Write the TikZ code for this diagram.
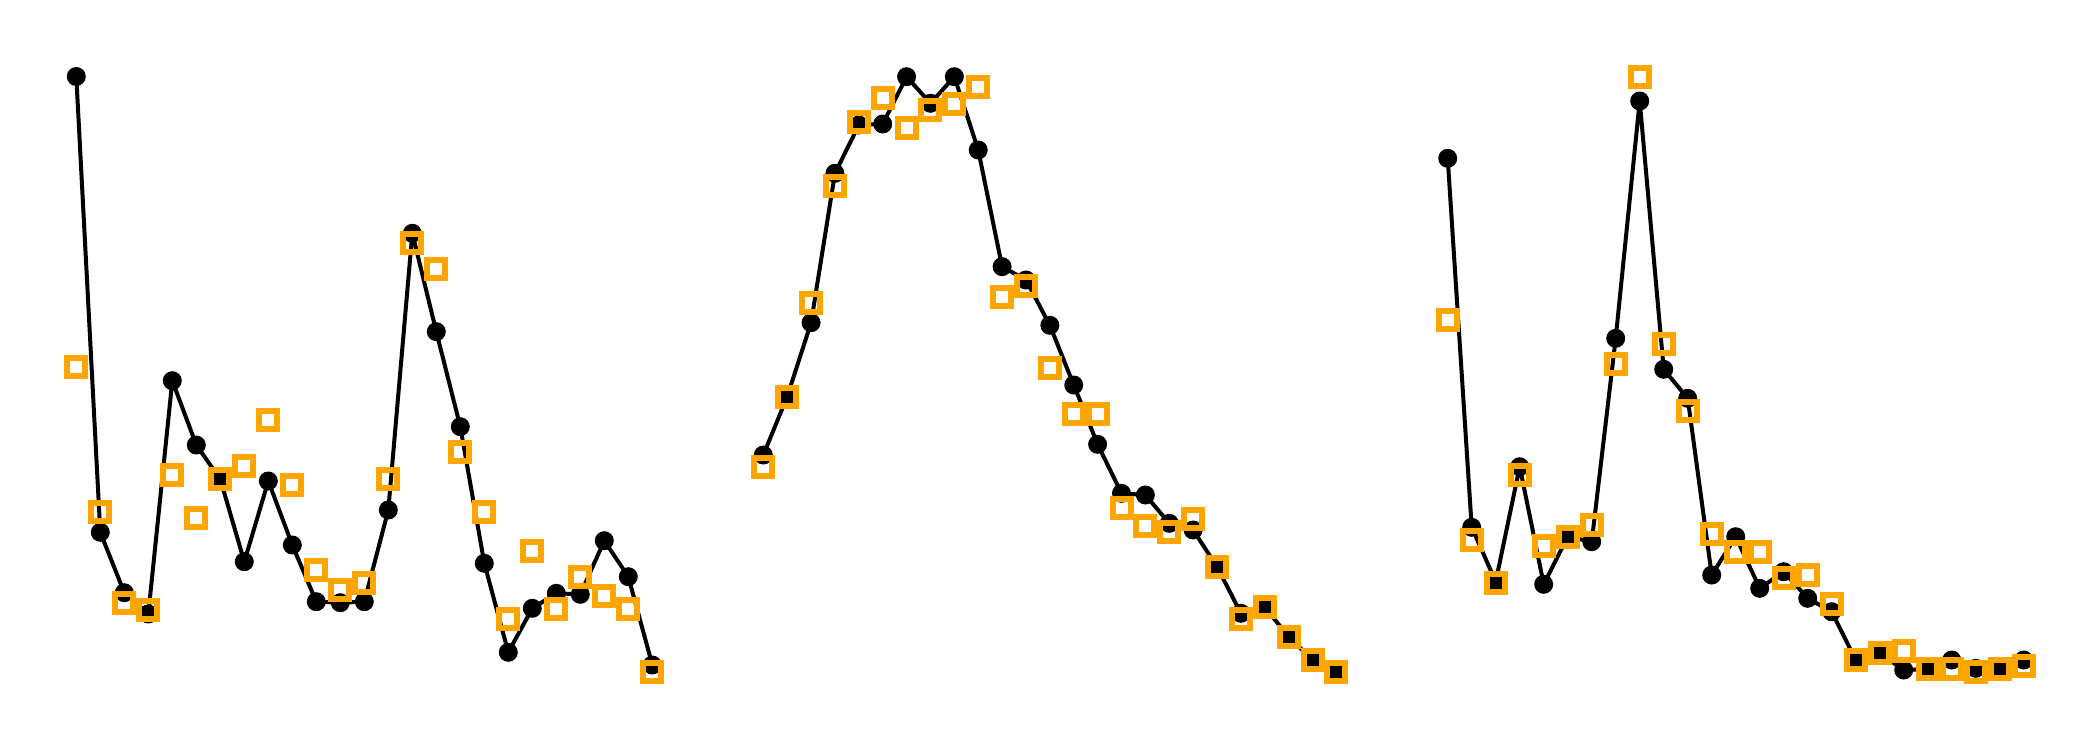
\documentclass[tikz,border=0pt]{standalone}
\definecolor{mplorange}{HTML}{FFA500}
\tikzset{
  dot/.style={circle,fill=black,inner sep=0pt,minimum size=9.5pt},
  sq/.style={rectangle,draw=mplorange,line width=3pt,inner sep=0pt,minimum size=9pt},
  curve/.style={line width=2pt,black,line join=round}
}
% #1 panel name, #2 first x, #3 x step, #4 dot y list, #5 square y list
\newcommand\drawpanel[5]{%
  \foreach \yy [count=\i from 0] in {#4} {\coordinate (#1c\i) at ({#2+#3*\i},\yy);}
  \draw[curve] (#1c0) \foreach \i in {1,...,24} { -- (#1c\i) };
  \foreach \i in {0,...,24} {\node[dot] (#1d\i) at (#1c\i) {};}
  \foreach \yy [count=\i from 0] in {#5} {\node[sq] (#1s\i) at ({#2+#3*\i},\yy) {};}
}
\begin{document}
\begin{tikzpicture}[x=0.5pt,y=-0.5pt]
\fill[white] (0,0) rectangle (2100,750);
\useasboundingbox (0,0) rectangle (2100,750);
\drawpanel{a}{76.3}{24}
  {76.5,532.3,592.7,614,380.7,445,479.3,561.7,481,545,601.7,602.7,601.7,510,233.3,331.7,426.7,563.3,652.3,608.3,593.3,594.3,540.7,576.7,665}
  {367.3,511.7,603.3,610,475.3,518.3,479.3,465.7,420,485.3,570,590,583.3,479,242.7,269.3,452.3,511.7,619.3,550.7,609.3,576.7,596,609.3,671.7}
\drawpanel{b}{763.3}{23.88}
  {455,396.7,322.7,173.3,125,124,76.7,103.3,76.7,150,266.7,280,325.3,385,444.3,493.3,495,523.3,530,566.7,613.3,607.3,636.7,660,671.7}
  {466.7,396.7,303.3,186,121.7,98.3,128.3,110,104.3,86.7,297.3,285.7,367.5,414.3,414.3,508.3,526,531.7,519.3,566.7,619.3,607.3,636.7,660,671.7}
\drawpanel{c}{1447.7}{24}
  {158.3,527.3,581.7,466.7,584.3,536.7,541.7,338.3,101,369.3,398.3,575,536.7,588.3,571.7,598.3,611.7,660,653.3,670,669,660,668.3,668.3,660}
  {320,540,583.3,475,546,536.7,525,364.3,77.3,344,411,534,551.7,551.7,578.3,575,604.3,660,653.3,651,669,669,671.7,669,666}
\end{tikzpicture}
\end{document}
